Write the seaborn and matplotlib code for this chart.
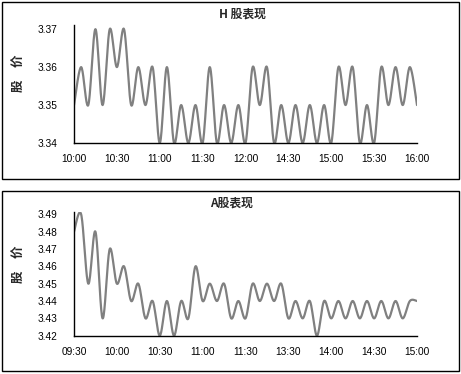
import numpy as np
import matplotlib
matplotlib.use("Agg")
import matplotlib.pyplot as plt
import matplotlib.patches as mpatches
import seaborn as sns

# ---- data ----
h_values = [3.35, 3.36, 3.35, 3.37, 3.35, 3.37, 3.36, 3.37, 3.35, 3.36, 3.35, 3.36,
            3.34, 3.36, 3.34, 3.35, 3.34, 3.35, 3.34, 3.36, 3.34, 3.35, 3.34, 3.35,
            3.34, 3.36, 3.35, 3.36, 3.34, 3.35, 3.34, 3.35, 3.34, 3.35, 3.34, 3.35,
            3.34, 3.36, 3.35, 3.36, 3.34, 3.35, 3.34, 3.36, 3.35, 3.36, 3.35, 3.36,
            3.35]
h_ticklabels = ["10:00", "10:30", "11:00", "11:30", "12:00", "14:30", "15:00", "15:30", "16:00"]
h_yticks = [3.34, 3.35, 3.36, 3.37]

a_values = [3.48, 3.49, 3.45, 3.48, 3.43, 3.47, 3.45, 3.46, 3.44, 3.45, 3.43, 3.44,
            3.42, 3.44, 3.42, 3.44, 3.43, 3.46, 3.44, 3.45, 3.44, 3.45, 3.43, 3.44,
            3.43, 3.45, 3.44, 3.45, 3.44, 3.45, 3.43, 3.44, 3.43, 3.44, 3.42, 3.44,
            3.43, 3.44, 3.43, 3.44, 3.43, 3.44, 3.43, 3.44, 3.43, 3.44, 3.43, 3.44,
            3.44]
a_ticklabels = ["09:30", "10:00", "10:30", "11:00", "11:30", "13:30", "14:00", "14:30", "15:00"]
a_yticks = [3.42, 3.43, 3.44, 3.45, 3.46, 3.47, 3.48, 3.49]

titles = ["H 股表现", "A股表现"]
ylabel = "股　价"
points_per_tick = 6


def smooth(y, n=20):
    """Excel-style smoothed line (Bezier through the points)."""
    y = np.asarray(y, float)
    x = np.arange(len(y), dtype=float)
    P = np.column_stack([x, y])
    out = []
    for i in range(len(P) - 1):
        p0 = P[i - 1] if i > 0 else P[i]
        p1 = P[i]
        p2 = P[i + 1]
        p3 = P[i + 2] if i + 2 < len(P) else P[i + 1]
        c1 = p1 + (p2 - p0) / 6.0
        c2 = p2 - (p3 - p1) / 6.0
        t = np.linspace(0, 1, n, endpoint=(i == len(P) - 2))[:, None]
        seg = ((1 - t) ** 3) * p1 + 3 * ((1 - t) ** 2) * t * c1 + 3 * (1 - t) * t ** 2 * c2 + t ** 3 * p2
        out.append(seg)
    out = np.vstack(out)
    return out[:, 0], out[:, 1]


sns.set_theme(style="white")
plt.rcParams["font.family"] = ["Liberation Sans", "Noto Sans CJK SC"]

W, H = 461, 374
fig = plt.figure(figsize=(W / 100, H / 100), dpi=100)
fig.patch.set_facecolor("white")

def fx(px):
    return px / W

def fy(py):
    return 1 - py / H

# panel boxes
for (top, bot) in [(1.5, 179), (191, 371)]:
    fig.add_artist(mpatches.Rectangle((fx(1.5), fy(bot)), fx(459) - fx(1.5), fy(top) - fy(bot),
                                      transform=fig.transFigure, fill=False, lw=1.0, ec="black"))

panels = [
    dict(vals=h_values, labels=h_ticklabels, yticks=h_yticks, top=25, bottom=143,
         ylim=(3.34, 3.3711), title=titles[0], title_x=242, title_y=14, ylab_y=73),
    dict(vals=a_values, labels=a_ticklabels, yticks=a_yticks, top=211.7, bottom=335.7,
         ylim=(3.42, 3.4915), title=titles[1], title_x=231, title_y=203, ylab_y=264),
]

left_px, right_px = 74, 417
for p in panels:
    ax = fig.add_axes([fx(left_px), fy(p["bottom"]), fx(right_px) - fx(left_px),
                       fy(p["top"]) - fy(p["bottom"])])
    xs, ys = smooth(p["vals"])
    sns.lineplot(x=xs, y=ys, ax=ax, color="#808080", lw=1.6, sort=False, estimator=None)
    n = len(p["vals"])
    ax.set_xlim(0, n - 1)
    ax.set_ylim(*p["ylim"])
    ax.set_xticks(np.arange(0, n, points_per_tick))
    ax.set_xticklabels(p["labels"])
    ax.set_yticks(p["yticks"])
    ax.set_yticklabels([f"{v:.2f}" for v in p["yticks"]])
    ax.tick_params(axis="both", length=0, labelsize=7.3, colors="black")
    ax.tick_params(axis="y", pad=12)
    ax.tick_params(axis="x", pad=8)
    for s in ["top", "right"]:
        ax.spines[s].set_visible(False)
    for s in ["left", "bottom"]:
        ax.spines[s].set_visible(True)
        ax.spines[s].set_color("black")
        ax.spines[s].set_linewidth(1.0)
    ax.set_facecolor("none")
    ax.grid(False)
    ax.set_xlabel("")
    ax.set_ylabel("")
    fig.text(fx(p["title_x"]), fy(p["title_y"]), p["title"], ha="center", va="center",
             fontsize=8.5, fontweight="bold", family=["Noto Sans CJK SC", "Liberation Sans"])
    fig.text(fx(18), fy(p["ylab_y"]), ylabel, ha="center", va="center", rotation=90,
             fontsize=9, fontweight="bold", family=["Noto Sans CJK SC", "Liberation Sans"])

fig.savefig("out.png", dpi=100, facecolor="white")
